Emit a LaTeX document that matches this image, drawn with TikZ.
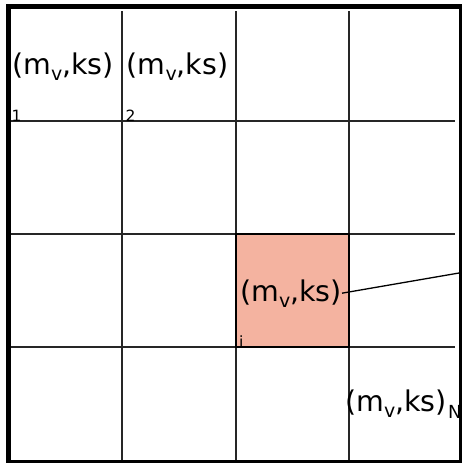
\documentclass[tikz,border=0pt]{standalone}
\usepackage{fontspec}
\setmainfont{DejaVu Sans}
\definecolor{cellred}{HTML}{F4B3A0}
\newcommand\mvks{(m\raisebox{-6pt}{\fontsize{19}{19}\selectfont v},ks)}
\tikzset{
  frame/.style={line width=5pt},
  gridline/.style={line width=1.4pt, black!85},
  hicell/.style={draw=black, line width=1.5pt, fill=cellred, inner sep=0pt,
                 minimum width=113pt, minimum height=113pt},
  pair/.style={inner sep=0pt, anchor=base west, font=\fontsize{28.5}{28.5}\selectfont},
  idx/.style={inner sep=0pt, anchor=base west, font=\fontsize{15.5}{15.5}\selectfont},
  sub/.style={inner sep=0pt, anchor=base west, font=\fontsize{18}{18}\selectfont},
  link/.style={line width=1.3pt}
}
\begin{document}
\begin{tikzpicture}[x=1pt,y=-1pt]
\useasboundingbox (0,0) rectangle (462,463);
% grid of cells
\foreach \x in {122,236,349}
  \draw[gridline] (\x,11) -- (\x,461);
\foreach \y in {121,234,347}
  \draw[gridline] (11,\y) -- (455,\y);
% highlighted cell i
\node[hicell] (celli) at (292.5,290.5) {};
% cell labels
\node[pair] (lbl1) at (12,74) {\mvks};
\node[pair] (lbl2) at (126.5,74) {\mvks};
\node[pair] (lbli) at (240,301) {\mvks};
\node[pair] (lblN) at (345,411) {\mvks};
\node[sub] (subN) at (448,418.5) {N};
% cell indices
\node[idx] (idx1) at (11.5,121) {1};
\node[idx] (idx2) at (125.5,121) {2};
\node[idx] (idxi) at (239,347) {i};
% outer frame
\draw[frame] (8.5,6.5) rectangle (461.5,462.5);
% connector from cell i to the frame
\coordinate (tap) at (459,273);
\draw[link] (lbli.east) -- (tap);
\end{tikzpicture}
\end{document}
